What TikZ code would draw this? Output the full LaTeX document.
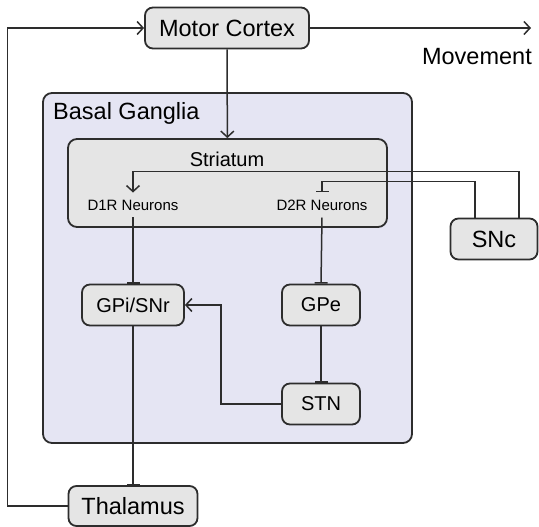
\documentclass[tikz,border=0pt]{standalone}
\usepackage{fontspec}
\setmainfont{Liberation Sans}
\usetikzlibrary{arrows.meta}
\definecolor{linegray}{RGB}{45,45,45}
\definecolor{boxgray}{RGB}{229,229,229}
\definecolor{bglav}{RGB}{229,229,243}

\begin{document}
\begin{tikzpicture}[x=1pt, y=-1pt,
    region/.style={rectangle, draw=linegray, fill=boxgray, line width=1.8pt, rounded corners=8pt,
                   minimum height=41pt, inner sep=0pt, font=\fontsize{20}{22}\selectfont},
    bigregion/.style={region, font=\fontsize{23.5}{26}\selectfont},
    group/.style={rectangle, draw=linegray, line width=1.8pt, rounded corners=9pt, inner sep=0pt},
    neurons/.style={inner xsep=0pt, inner ysep=7pt, font=\fontsize{15}{17}\selectfont},
    excite/.style={-{Straight Barb[length=6pt, width=13pt, line width=1.5pt]}, line width=1.5pt, color=linegray},
    inhibit/.style={-{Bar[width=13pt, line width=1.5pt]}, line width=1.5pt, color=linegray}
]
\useasboundingbox (0,0) rectangle (539,527);

% containers
\node[group, fill=bglav, minimum width=369pt, minimum height=350pt] (bg) at (227.5,268) {};
\node[anchor=base west, inner sep=0pt, font=\fontsize{23.5}{26}\selectfont] (bglabel) at (53,120) {Basal Ganglia};
\node[group, fill=boxgray, minimum width=319pt, minimum height=88pt] (str) at (227.5,183) {};
\node[anchor=base, inner sep=0pt, font=\fontsize{20}{22}\selectfont] (strlabel) at (227,167) {Striatum};

% nodes
\node[bigregion, minimum width=164pt] (mc)   at (227,28)  {Motor Cortex};
\node[anchor=base east, inner sep=0pt, font=\fontsize{23.5}{26}\selectfont] (mvlabel) at (532,65) {Movement};
\coordinate (mvend) at (531,28);
\node[neurons] (d1)  at (133,205) {D1R Neurons};
\node[neurons] (d2)  at (322,205) {D2R Neurons};
\node[bigregion, minimum width=87pt]  (snc)  at (494,239) {SNc};
\node[region, minimum width=102pt] (gpi)  at (133,305) {GPi/SNr};
\node[region, minimum width=78pt]  (gpe)  at (321,305) {GPe};
\node[region, minimum width=78pt]  (stn)  at (321,404) {STN};
\node[bigregion, minimum width=129pt, minimum height=40pt] (thal) at (133,506) {Thalamus};

% connections
\draw[excite] (mc) -- (mvend);
\draw[excite] (mc) -- (str);
\draw[excite] ([xshift=25pt]snc.north) -- ++(0,-46) -| (d1.north);
\draw[inhibit] ([xshift=-19pt]snc.north) -- ++(0,-36) -| (d2.north);
\draw[inhibit] (d1.south) -- (gpi.north);
\draw[inhibit] (d2.south) -- (gpe.north);
\draw[inhibit] (gpe) -- (stn);
\draw[excite] (stn.west) -- ++(-60,0) |- (gpi.east);
\draw[inhibit] (gpi) -- (thal);
\draw[excite] (thal.west) -- ++(-60,0) |- (mc.west);
\end{tikzpicture}
\end{document}
